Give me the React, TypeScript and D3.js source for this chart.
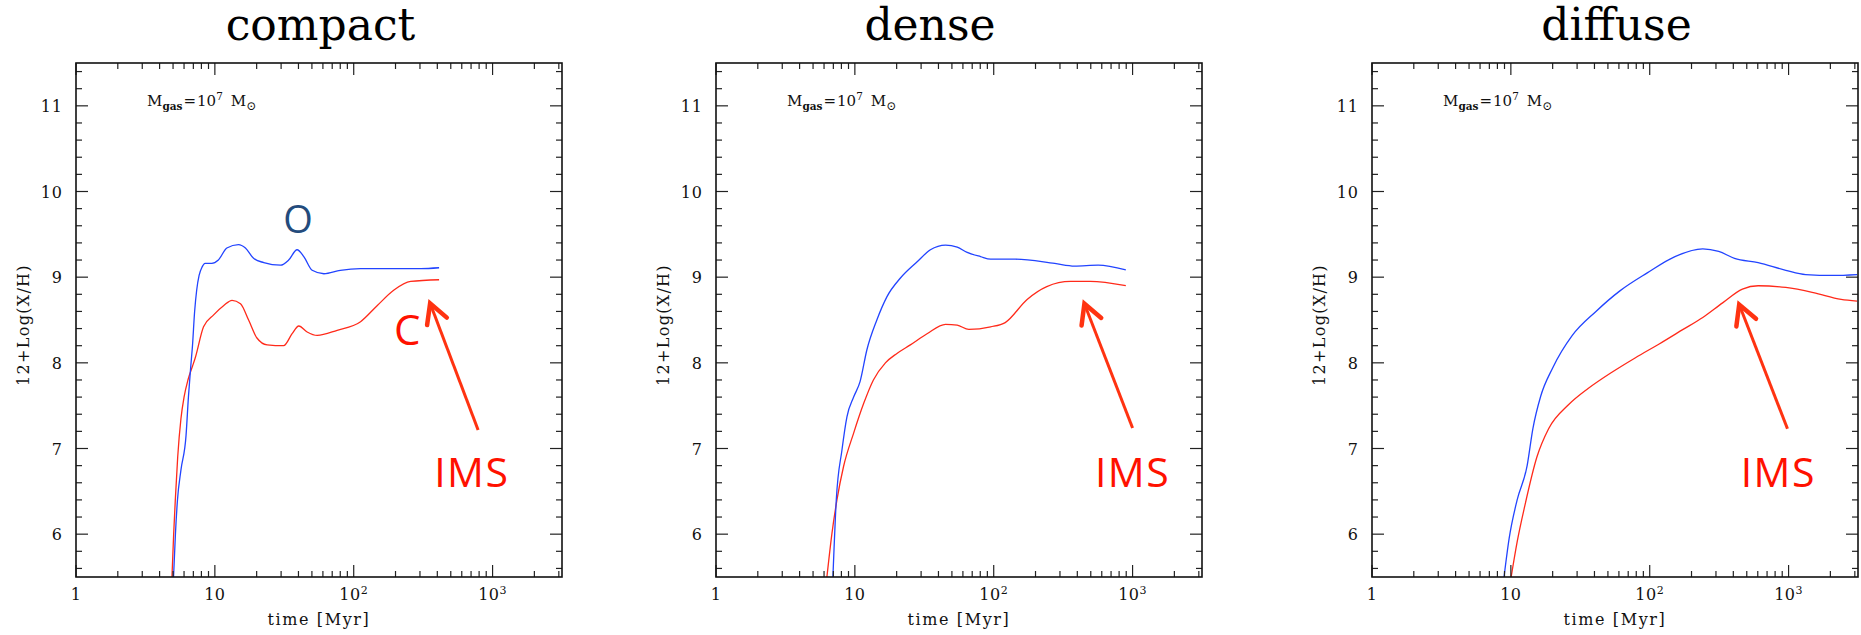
import React from "react";
import * as d3 from "d3";

// ---------- data ----------
const panelTitles = ["compact", "dense", "diffuse"];

// [time (Myr), 12+log(X/H)]
const compactO: [number, number][] = [
  [5.04, 5.5], [5.2, 6.0], [5.38, 6.4], [5.7, 6.75], [6.2, 7.15], [6.45, 7.6], [6.7, 7.95],
  [6.9, 8.2], [7.15, 8.6], [7.4, 8.85], [7.7, 9.02], [8.1, 9.12], [8.5, 9.16], [9.5, 9.16],
  [10.6, 9.2], [12.2, 9.34], [14.8, 9.38], [16.6, 9.34], [19, 9.22], [22.5, 9.17], [29.7, 9.14],
  [34, 9.2], [39.1, 9.32], [43.7, 9.24], [50.2, 9.08], [61, 9.04], [80, 9.08], [112, 9.1],
  [195, 9.1], [304, 9.1], [412, 9.11],
];
const compactC: [number, number][] = [
  [4.91, 5.5], [5.05, 6.0], [5.19, 6.4], [5.4, 6.9], [5.7, 7.35], [6.0, 7.6], [6.4, 7.8],
  [6.9, 7.96], [7.2, 8.05], [8.29, 8.42], [9.8, 8.56], [11.6, 8.67], [13.3, 8.73], [15.3, 8.69],
  [17.5, 8.5], [20.1, 8.29], [23.8, 8.21], [31.3, 8.2], [36, 8.34], [40.2, 8.43], [46.2, 8.36],
  [54.6, 8.32], [76, 8.38], [112, 8.48], [148, 8.67], [195, 8.85], [257, 8.95], [412, 8.97],
];
const denseO: [number, number][] = [
  [6.95, 5.5], [7.35, 6.4], [8.07, 6.98], [8.77, 7.37], [9.8, 7.6], [10.9, 7.78], [12.2, 8.15],
  [14.4, 8.5], [17, 8.77], [21.3, 8.99], [28.1, 9.18], [35, 9.32], [45, 9.375], [54.6, 9.35],
  [64.4, 9.29], [80.4, 9.24], [95, 9.21], [143, 9.21], [275, 9.16], [382, 9.13], [565, 9.14],
  [894, 9.085],
];
const denseC: [number, number][] = [
  [6.29, 5.5], [6.84, 6.01], [7.43, 6.4], [8.29, 6.79], [9.8, 7.18], [11.6, 7.53], [13.6, 7.8],
  [16.6, 8.0], [20.1, 8.11], [25.1, 8.21], [33.1, 8.34], [45, 8.45], [54.6, 8.44], [66.2, 8.39],
  [95, 8.42], [121, 8.47], [174, 8.74], [241, 8.89], [357, 8.95], [496, 8.95], [894, 8.9],
];
const diffuseO: [number, number][] = [
  [8.93, 5.5], [9.72, 5.95], [11.1, 6.4], [13.1, 6.8], [14.4, 7.23], [16.4, 7.61], [20, 7.94],
  [27.7, 8.32], [41, 8.6], [61, 8.84], [96, 9.05], [152, 9.24], [241, 9.33], [314, 9.3],
  [408, 9.22], [604, 9.17], [955, 9.08], [1327, 9.03], [2100, 9.02], [3110, 9.03],
];
const diffuseC: [number, number][] = [
  [10.05, 5.5], [11.1, 5.91], [12.6, 6.33], [15.4, 6.9], [18.7, 7.23], [26, 7.51], [36, 7.7],
  [53.4, 7.89], [79, 8.06], [117, 8.22], [174, 8.39], [241, 8.53], [335, 8.7], [465, 8.86],
  [604, 8.9], [955, 8.88], [1510, 8.82], [2390, 8.74], [3110, 8.72],
];
const oxygenSeries = [compactO, denseO, diffuseO];
const carbonSeries = [compactC, denseC, diffuseC];

const xMajorTicks = [1, 10, 100, 1000];
const xTickBase = ["1", "10", "10", "10"];
const xTickExp = ["", "", "2", "3"];
const yMajorTicks = [6, 7, 8, 9, 10, 11];

// annotation anchors in data coords: arrow tip, arrow tail, IMS label
const arrowTips: [number, number][] = [[355, 8.695], [450, 8.69], [441, 8.68]];
const arrowTails: [number, number][] = [[787, 7.216], [1000, 7.24], [982, 7.23]];
const imsLabels: [number, number][] = [[709, 6.55], [1000, 6.55], [844, 6.55]];
const oLabel: [number, number] = [39.7, 9.515];
const cLabel: [number, number] = [243, 8.208];
const mgasAnchor: [number, number] = [3.25, 11.0];

// ---------- layout ----------
const W = 1861, H = 635;
const panelLeft = [76, 716, 1372];
const panelW = 486;
const top = 63, bottom = 577;
const titleX = [320.5, 930, 1616.5];

const BLUE = "#2244ff";
const RED = "#ff2a1a";
const ARROW = "#ff3311";
const SERIF = "'DejaVu Serif', 'Liberation Serif', serif";
const SANS = "'Open Sans', Lato, sans-serif";

function Panel({ i }: { i: number }) {
  const left = panelLeft[i];
  const right = left + panelW;
  const x = d3.scaleLog().domain([1, Math.pow(10, 3.5)]).range([left, right]);
  const y = d3.scaleLinear().domain([5.5, 11.5]).range([bottom, top]);
  const line = d3
    .line<[number, number]>()
    .x((d) => x(d[0]))
    .y((d) => y(d[1]))
    .curve(d3.curveMonotoneX);

  const xMinor: number[] = [];
  for (let dec = 1; dec <= 1000; dec *= 10)
    for (let k = 2; k <= 9; k++) if (dec * k < Math.pow(10, 3.5)) xMinor.push(dec * k);
  const yMinor: number[] = [];
  for (let v = 5.6; v < 11.45; v += 0.2) {
    const r = Math.round(v * 10) / 10;
    if (Math.abs(r - Math.round(r)) > 0.01) yMinor.push(r);
  }
  const clipId = `clip${i}`;
  const tip = arrowTips[i], tail = arrowTails[i];
  const tx = x(tip[0]), ty = y(tip[1]);
  const lx = x(tail[0]), ly = y(tail[1]);
  const ang = Math.atan2(ly - ty, lx - tx);
  const bl = 22, spread = 0.5;
  const b1 = [tx + bl * Math.cos(ang - spread), ty + bl * Math.sin(ang - spread)];
  const b2 = [tx + bl * Math.cos(ang + spread), ty + bl * Math.sin(ang + spread)];

  const MAJ = 12, MIN = 6;
  return (
    <g>
      <defs>
        <clipPath id={clipId}>
          <rect x={left} y={top} width={panelW} height={bottom - top} />
        </clipPath>
      </defs>
      <text x={titleX[i]} y={40} fontFamily={SERIF} fontSize={44} textAnchor="middle" fill="#000">
        {panelTitles[i]}
      </text>
      {/* curves */}
      <g clipPath={`url(#${clipId})`}>
        <path d={line(carbonSeries[i]) || ""} fill="none" stroke={RED} strokeWidth={1.3} />
        <path d={line(oxygenSeries[i]) || ""} fill="none" stroke={BLUE} strokeWidth={1.3} />
      </g>
      {/* ticks */}
      <g stroke="#222" strokeWidth={1.2}>
        {xMajorTicks.map((t) => (
          <g key={"xM" + t}>
            <line x1={x(t)} x2={x(t)} y1={bottom} y2={bottom - MAJ} />
            <line x1={x(t)} x2={x(t)} y1={top} y2={top + MAJ} />
          </g>
        ))}
        {xMinor.map((t) => (
          <g key={"xm" + t}>
            <line x1={x(t)} x2={x(t)} y1={bottom} y2={bottom - MIN} />
            <line x1={x(t)} x2={x(t)} y1={top} y2={top + MIN} />
          </g>
        ))}
        {yMajorTicks.map((v) => (
          <g key={"yM" + v}>
            <line x1={left} x2={left + MAJ} y1={y(v)} y2={y(v)} />
            <line x1={right} x2={right - MAJ} y1={y(v)} y2={y(v)} />
          </g>
        ))}
        {yMinor.map((v) => (
          <g key={"ym" + v}>
            <line x1={left} x2={left + MIN} y1={y(v)} y2={y(v)} />
            <line x1={right} x2={right - MIN} y1={y(v)} y2={y(v)} />
          </g>
        ))}
      </g>
      <rect x={left} y={top} width={panelW} height={bottom - top} fill="none" stroke="#111" strokeWidth={1.6} />
      {/* tick labels */}
      {yMajorTicks.map((v) => (
        <text key={"yl" + v} x={left - 13} y={y(v) + 6} fontFamily={SERIF} fontSize={16} textAnchor="end" fill="#111" letterSpacing={1}>
          {v}
        </text>
      ))}
      {xMajorTicks.map((t, k) => (
        <text key={"xl" + t} x={x(t)} y={600} fontFamily={SERIF} fontSize={16} textAnchor="middle" fill="#111" letterSpacing={0.5}>
          {xTickBase[k]}
          {xTickExp[k] ? (
            <tspan dy={-6} fontSize={11}>{xTickExp[k]}</tspan>
          ) : null}
        </text>
      ))}
      <text x={(left + right) / 2} y={625} fontFamily={SERIF} fontSize={16} textAnchor="middle" fill="#111" letterSpacing={1.6}>
        time [Myr]
      </text>
      <text
        transform={`translate(${left - 47},${(top + bottom) / 2 + 5}) rotate(-90)`}
        fontFamily={SERIF}
        fontSize={16}
        textAnchor="middle"
        fill="#111"
        letterSpacing={1.3}
      >
        12+Log(X/H)
      </text>
      {/* M_gas label */}
      <text x={x(mgasAnchor[0])} y={y(mgasAnchor[1])} fontFamily={SERIF} fontSize={15} fill="#111">
        M<tspan dy={4} fontSize={10.5} fontWeight="bold">gas</tspan>
        <tspan dy={-4} dx={1}>=</tspan>
        <tspan dx={1}>10</tspan>
        <tspan dy={-6} fontSize={10.5}>7</tspan>
        <tspan dy={6} dx={8}>M</tspan>
        <tspan dy={4} fontSize={12}>⊙</tspan>
      </text>
      {/* IMS arrow */}
      <line x1={lx} y1={ly} x2={tx} y2={ty} stroke={ARROW} strokeWidth={3} />
      <path
        d={`M${b1[0]},${b1[1]} L${tx},${ty} L${b2[0]},${b2[1]}`}
        fill="none"
        stroke={ARROW}
        strokeWidth={4.5}
        strokeLinejoin="miter"
        strokeLinecap="round"
      />
      <text x={x(imsLabels[i][0])} y={y(imsLabels[i][1])} fontFamily={SANS} fontSize={41} textAnchor="middle" fill="#ff1100" letterSpacing={1.5}>
        IMS
      </text>
      {i === 0 ? (
        <g>
          <text x={x(oLabel[0])} y={y(oLabel[1])} fontFamily={SANS} fontSize={38} textAnchor="middle" fill="#234b7c">
            O
          </text>
          <text x={x(cLabel[0])} y={y(cLabel[1])} fontFamily={SANS} fontSize={42} textAnchor="middle" fill="#ff1100">
            C
          </text>
        </g>
      ) : null}
    </g>
  );
}

export default function App() {
  return (
    <svg
      width={W}
      height={H}
      viewBox={`0 0 ${W} ${H}`}
      style={{ position: "absolute", left: 0, top: 0, background: "#fff" }}
    >
      <rect x={0} y={0} width={W} height={H} fill="#fff" />
      {panelTitles.map((_, i) => (
        <Panel key={i} i={i} />
      ))}
    </svg>
  );
}
